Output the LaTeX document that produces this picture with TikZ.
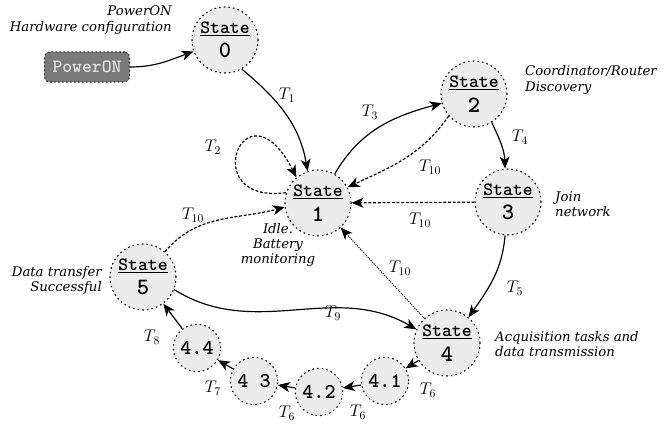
\documentclass[tikz,border=0pt]{standalone}
\usepackage{fontspec}
\newfontfamily\notefont{DejaVu Serif}
\usetikzlibrary{arrows.meta}

% two-line content of a main state: underlined word, number below
\newcommand{\stlabel}[1]{{\fontsize{16}{16}\selectfont\underline{State}}\\#1}

\begin{document}
\begin{tikzpicture}[x=0.03cm, y=0.03cm,
  stnode/.style={circle, draw=black, fill=gray!15, line width=0.9pt,
    dash pattern=on 1.4pt off 2.6pt, minimum size=1.98cm, inner sep=0pt,
    align=center, font=\ttfamily\bfseries\fontsize{20}{21}\selectfont},
  subnode/.style={stnode, minimum size=1.42cm,
    font=\ttfamily\bfseries\fontsize{18}{18}\selectfont},
  powerbox/.style={draw=black!80, fill=black!52, rounded corners=4pt,
    line width=0.9pt, dash pattern=on 1.4pt off 2pt, text=black!12,
    minimum width=2.55cm, minimum height=0.9cm,
    font=\ttfamily\bfseries\fontsize{16}{16}\selectfont},
  trans/.style={-{Stealth[length=3.6mm, width=3mm, inset=1mm]}, line width=1pt},
  back/.style={trans, dash pattern=on 2.5pt off 1.5pt},
  fine/.style={trans, line width=0.75pt, dash pattern=on 1pt off 0.9pt},
  note/.style={font=\notefont\itshape\fontsize{11.3}{13}\selectfont, inner sep=0pt},
  tlab/.style={font=\fontsize{14.5}{16}\selectfont, inner sep=0pt}]

  \useasboundingbox (0,0) rectangle (664,427);

  % states
  \node[powerbox] (power) at (87,360) {PowerON};
  \node[stnode] (s0) at (225,387) {\stlabel{0}};
  \node[stnode] (s1) at (318,224) {\stlabel{1}};
  \node[stnode] (s2) at (474,333) {\stlabel{2}};
  \node[stnode] (s3) at (508,225) {\stlabel{3}};
  \node[stnode] (s4) at (447,84) {\stlabel{4}};
  \node[stnode] (s5) at (143,150) {\stlabel{5}};
  \node[subnode] (s41) at (385,46) {4.1};
  \node[subnode] (s42) at (319,35) {4.2};
  \node[subnode] (s43) at (254,46) {4 3};
  \node[subnode] (s44) at (197,79) {4.4};

  % descriptions
  \node[note, anchor=east, align=right] (n0) at (172,407) {PowerON\\Hardware configuration};
  \node[note, align=center] (n1) at (278,182) {Idle.\\Battery\\monitoring};
  \node[note, anchor=west, align=left] (n2) at (525,347) {Coordinator/Router\\Discovery};
  \node[note, anchor=west, align=left] (n3) at (555,223) {Join\\network};
  \node[note, anchor=west, align=left] (n4) at (495,83) {Acquisition tasks and\\data transmission};
  \node[note, anchor=east, align=right] (n5) at (102,147) {Data transfer\\Successful};

  % transitions
  \draw[trans] (power) to[out=0, in=200] (s0);
  \draw[trans] (s0.-60) to[out=-40, in=100] (s1.108);
  \draw[back] (s1.162) .. controls (195,222) and (245,350) .. (s1.130);
  \draw[trans] (s1.60) to[out=60, in=195] (s2.196);
  \draw[back] (s2.221) to[out=235, in=25] (s1.28);
  \draw[trans] (s2.-58) to[out=-65, in=92] (s3.95);
  \draw[back] (s3) -- (s1);
  \draw[trans] (s3.265) to[out=-95, in=55] (s4.50);
  \draw[fine] (s4) -- (s1);
  \draw[back] (s5.49) to[out=50, in=195] (s1.187);
  \draw[trans] (s5.-22) to[out=-32, in=150] (s4.156);
  \draw[trans] (s4) -- (s41);
  \draw[trans] (s41) -- (s42);
  \draw[trans] (s42) -- (s43);
  \draw[trans] (s43) -- (s44);
  \draw[trans] (s44) -- (s5);

  % transition labels
  \node[tlab] (t1) at (287,332) {$T_1$};
  \node[tlab] (t2) at (213,280) {$T_2$};
  \node[tlab] (t3) at (370,315) {$T_3$};
  \node[tlab] (t4) at (520,290) {$T_4$};
  \node[tlab] (t5) at (515,139) {$T_5$};
  \node[tlab] (t6a) at (428,37) {$T_6$};
  \node[tlab] (t6b) at (358,15) {$T_6$};
  \node[tlab] (t6c) at (287,14) {$T_6$};
  \node[tlab] (t7) at (213,39) {$T_7$};
  \node[tlab] (t8) at (152,90) {$T_8$};
  \node[tlab] (t9) at (333,114) {$T_9$};
  \node[tlab] (t10a) at (430,260) {$T_{10}$};
  \node[tlab] (t10b) at (420,207) {$T_{10}$};
  \node[tlab] (t10c) at (400,159) {$T_{10}$};
  \node[tlab] (t10d) at (193,212) {$T_{10}$};
\end{tikzpicture}
\end{document}
